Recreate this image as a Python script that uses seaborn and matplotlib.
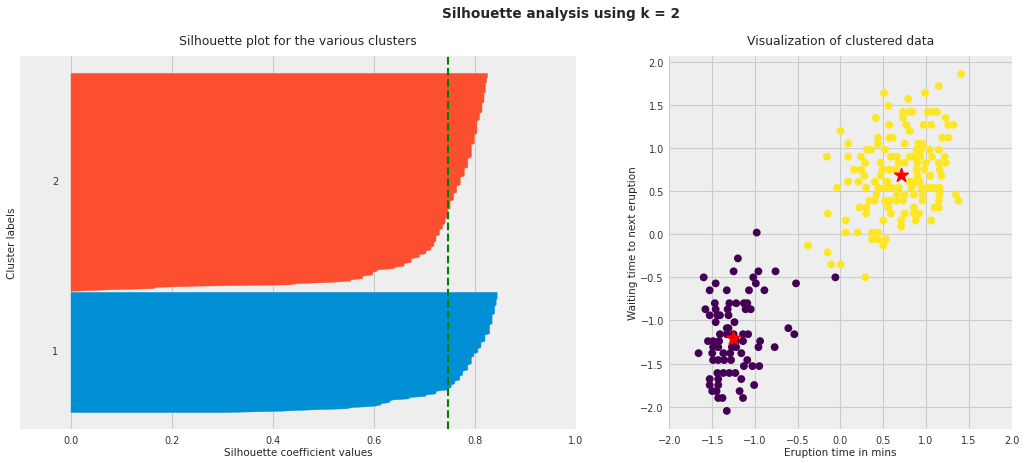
"""
Silhouette analysis for k-means (k = 2) on the standardised Old Faithful data.
Left: silhouette blades per cluster, right: the clustered points with centroids.
"""

import numpy as np
import pandas as pd
import matplotlib
matplotlib.use("Agg")
import matplotlib.pyplot as plt
import seaborn as sns

sil_values_1 = [0.302, 0.411, 0.468, 0.544, 0.557, 0.600, 0.613, 0.630, 0.636, 0.669,
                0.702, 0.722, 0.744, 0.752, 0.759, 0.769, 0.775, 0.785, 0.792, 0.797,
                0.805, 0.811, 0.819, 0.828, 0.833, 0.838, 0.841, 0.843]
sil_counts_1 = [1, 1, 1, 1, 1, 1, 2, 2, 1, 2,
                2, 3, 2, 3, 3, 4, 4, 5, 6, 3,
                4, 5, 6, 8, 8, 7, 5, 6]
sil_values_2 = [0.011, 0.071, 0.163, 0.170, 0.253, 0.431, 0.448, 0.514, 0.553, 0.577,
                0.597, 0.606, 0.640, 0.659, 0.673, 0.689, 0.702, 0.712, 0.718, 0.722,
                0.729, 0.735, 0.740, 0.745, 0.750, 0.757, 0.763, 0.770, 0.778, 0.785,
                0.792, 0.798, 0.803, 0.808, 0.813, 0.817, 0.820, 0.822, 0.824]
sil_counts_2 = [1, 1, 1, 1, 1, 1, 1, 1, 2, 3,
                3, 2, 2, 3, 4, 3, 3, 3, 4, 5,
                5, 4, 5, 7, 7, 6, 6, 7, 7, 8,
                11, 8, 11, 6, 8, 8, 8, 4, 4]
cluster_colors = ["#008fd5", "#fc4f30"]

# standardised eruption time (x) and waiting time (y), cluster of short eruptions
short_x = [-0.98, -1.20, -1.25, -0.96, -0.76, -1.60, -1.02, -0.06, -1.46, -0.99,
           -0.52, -1.53, -1.33, -1.07, -0.89, -1.47, -1.30, -1.22, -1.13, -1.09,
           -1.58, -1.46, -1.32, -1.11, -1.05, -1.53, -1.44, -1.41, -1.31, -1.46,
           -1.24, -1.33, -1.31, -0.61, -1.41, -1.33, -1.25, -1.14, -1.08, -0.54,
           -1.55, -1.49, -1.42, -1.22, -1.14, -0.94, -1.49, -1.43, -1.27, -1.22,
           -0.96, -0.77, -1.66, -1.50, -1.37, -1.29, -1.16, -1.49, -1.43, -1.36,
           -1.28, -1.09, -1.13, -1.03, -0.95, -1.44, -1.37, -1.30, -1.23, -1.53,
           -1.43, -1.16, -1.53, -1.43, -1.01, -1.50, -1.45, -1.18, -1.43, -1.38,
           -1.14, -1.33]
short_y = [0.02, -0.28, -0.43, -0.43, -0.43, -0.50, -0.50, -0.50, -0.57, -0.57,
           -0.57, -0.65, -0.65, -0.65, -0.65, -0.80, -0.80, -0.80, -0.80, -0.80,
           -0.87, -0.87, -0.87, -0.87, -0.87, -0.94, -0.94, -0.94, -0.94, -1.02,
           -1.02, -1.09, -1.09, -1.09, -1.16, -1.16, -1.16, -1.16, -1.16, -1.16,
           -1.24, -1.24, -1.24, -1.24, -1.24, -1.24, -1.31, -1.31, -1.31, -1.31,
           -1.31, -1.31, -1.38, -1.38, -1.38, -1.38, -1.38, -1.46, -1.46, -1.46,
           -1.46, -1.46, -1.53, -1.53, -1.53, -1.61, -1.61, -1.61, -1.61, -1.68,
           -1.68, -1.68, -1.75, -1.75, -1.75, -1.82, -1.82, -1.82, -1.90, -1.90,
           -1.90, -2.05]

# cluster of long eruptions
long_x = [1.41, 1.15, 0.51, 0.99, 0.79, 0.56, 0.73, 0.81, 0.84, 1.02,
          1.07, 1.13, 0.41, 0.73, 1.23, 0.57, 0.77, 0.97, 1.06, 1.26,
          1.32, 0.00, 0.81, 0.44, 0.57, 0.61, 1.19, 1.26, 0.09, 0.44,
          0.75, 0.91, 0.96, 0.31, 0.36, 0.52, 0.89, 0.94, 1.04, 1.15,
          -0.16, 0.09, 0.24, 0.59, 0.66, 0.81, 0.86, 0.93, 1.07, 1.22,
          0.29, 0.47, 0.68, 0.75, 0.90, 1.00, 1.15, 1.23, 0.16, 0.24,
          0.49, 0.57, 0.64, 0.89, 0.98, 1.16, 0.28, 0.47, 0.90, 1.05,
          1.18, 0.09, 0.21, 0.40, 0.55, 0.81, 0.87, 0.93, -0.04, 0.30,
          0.44, 0.52, 0.60, 0.68, 0.83, 0.95, 1.03, 1.09, 1.16, 0.42,
          0.66, 0.75, 0.86, 0.96, 1.16, 1.35, 0.34, 0.40, 0.52, 0.58,
          0.65, 0.73, 0.96, 1.15, 1.38, 0.22, 0.30, 0.56, 0.86, 1.10,
          1.15, -0.15, 0.30, 0.59, 0.75, 0.86, 0.92, 0.06, 0.50, 0.71,
          0.88, 1.06, 0.71, 0.06, 0.20, 0.37, 0.44, 0.37, 0.44, 0.53,
          -0.38, 0.50, -0.15, -0.11, 0.00, 0.29]
long_y = [1.86, 1.72, 1.64, 1.64, 1.57, 1.49, 1.42, 1.42, 1.42, 1.42,
          1.42, 1.42, 1.35, 1.35, 1.35, 1.27, 1.27, 1.27, 1.27, 1.27,
          1.27, 1.20, 1.20, 1.12, 1.12, 1.12, 1.12, 1.12, 1.05, 1.05,
          1.05, 1.05, 1.05, 0.98, 0.98, 0.98, 0.98, 0.98, 0.98, 0.98,
          0.90, 0.90, 0.90, 0.90, 0.90, 0.90, 0.90, 0.90, 0.90, 0.90,
          0.83, 0.83, 0.83, 0.83, 0.83, 0.83, 0.83, 0.83, 0.75, 0.75,
          0.75, 0.75, 0.75, 0.75, 0.75, 0.75, 0.68, 0.68, 0.68, 0.68,
          0.68, 0.61, 0.61, 0.61, 0.61, 0.61, 0.61, 0.61, 0.54, 0.54,
          0.54, 0.54, 0.54, 0.54, 0.54, 0.54, 0.54, 0.54, 0.54, 0.46,
          0.46, 0.46, 0.46, 0.46, 0.46, 0.46, 0.39, 0.39, 0.39, 0.39,
          0.39, 0.39, 0.39, 0.39, 0.39, 0.31, 0.31, 0.31, 0.31, 0.31,
          0.31, 0.24, 0.24, 0.24, 0.24, 0.24, 0.24, 0.16, 0.16, 0.16,
          0.16, 0.16, 0.09, 0.02, 0.02, 0.02, 0.02, -0.06, -0.06, -0.06,
          -0.13, -0.13, -0.21, -0.35, -0.35, -0.50]

centroid_x = [-1.26, 0.71]
centroid_y = [-1.20, 0.69]
point_colors = {0: "#440154", 1: "#fde725"}


def main():
    sns.set_style("whitegrid", {
        "axes.facecolor": "#eeeeee",
        "grid.color": "#cbcbcb",
        "axes.edgecolor": "#eeeeee",
    })
    plt.rcParams["font.family"] = ["DejaVu Sans"]
    plt.rcParams["xtick.major.size"] = 0
    plt.rcParams["ytick.major.size"] = 0

    fig = plt.figure(figsize=(10.24, 4.64), dpi=100)
    ax1 = fig.add_axes([0.0195, 0.0733, 0.543, 0.804])
    ax2 = fig.add_axes([0.6538, 0.0733, 0.334, 0.804])

    # silhouette blades
    blades = [np.repeat(sil_values_1, sil_counts_1), np.repeat(sil_values_2, sil_counts_2)]
    y_lower = 0
    for i, vals in enumerate(blades):
        y_upper = y_lower + len(vals)
        ax1.fill_betweenx(np.arange(y_lower, y_upper), 0, vals,
                          facecolor=cluster_colors[i], edgecolor=cluster_colors[i], lw=0.3)
        ax1.text(-0.03, y_lower + 0.5 * len(vals), str(i + 1), fontsize=7,
                 ha="center", va="center", color="#333333")
        y_lower = y_upper
    silhouette_avg = np.concatenate(blades).mean()
    print(f"mean silhouette: {silhouette_avg:.3f}")
    ax1.axvline(silhouette_avg, color="green", linestyle="--", lw=1.5)
    ax1.set_xlim([-0.1, 1])
    ax1.set_yticks([])
    ax1.set_xlabel("Silhouette coefficient values", fontsize=7.5, labelpad=2)
    ax1.set_ylabel("Cluster labels", fontsize=7.5, labelpad=2)
    ax1.set_title("Silhouette plot for the various clusters", fontsize=8.9, y=1.01)
    ax1.tick_params(labelsize=7, colors="#333333", pad=4)

    # scatter of the clusters
    pts = pd.DataFrame({
        "eruption": short_x + long_x,
        "waiting": short_y + long_y,
        "cluster": [0] * len(short_x) + [1] * len(long_x),
    })
    sns.scatterplot(data=pts, x="eruption", y="waiting", hue="cluster",
                    palette=point_colors, s=32, linewidth=0, legend=False, ax=ax2)
    ax2.scatter(centroid_x, centroid_y, marker="*", c="r", s=110, zorder=3)
    ax2.set_xlim([-2, 2])
    ax2.set_ylim([-2.26, 2.07])
    ax2.set_xticks(np.arange(-2, 2.01, 0.5))
    ax2.set_yticks(np.arange(-2, 2.01, 0.5))
    ax2.set_xlabel("Eruption time in mins", fontsize=7.5, labelpad=2)
    ax2.set_ylabel("Waiting time to next eruption", fontsize=7.5, labelpad=2)
    ax2.set_title("Visualization of clustered data", fontsize=8.9, y=1.01)
    ax2.tick_params(labelsize=7, colors="#333333", pad=4)

    for ax in (ax1, ax2):
        for sp in ax.spines.values():
            sp.set_visible(False)

    fig.suptitle("Silhouette analysis using k = 2", x=0.548, y=0.985,
                 fontsize=9.8, fontweight="bold")
    fig.savefig("out.png", dpi=100, facecolor="white")


if __name__ == "__main__":
    main()
